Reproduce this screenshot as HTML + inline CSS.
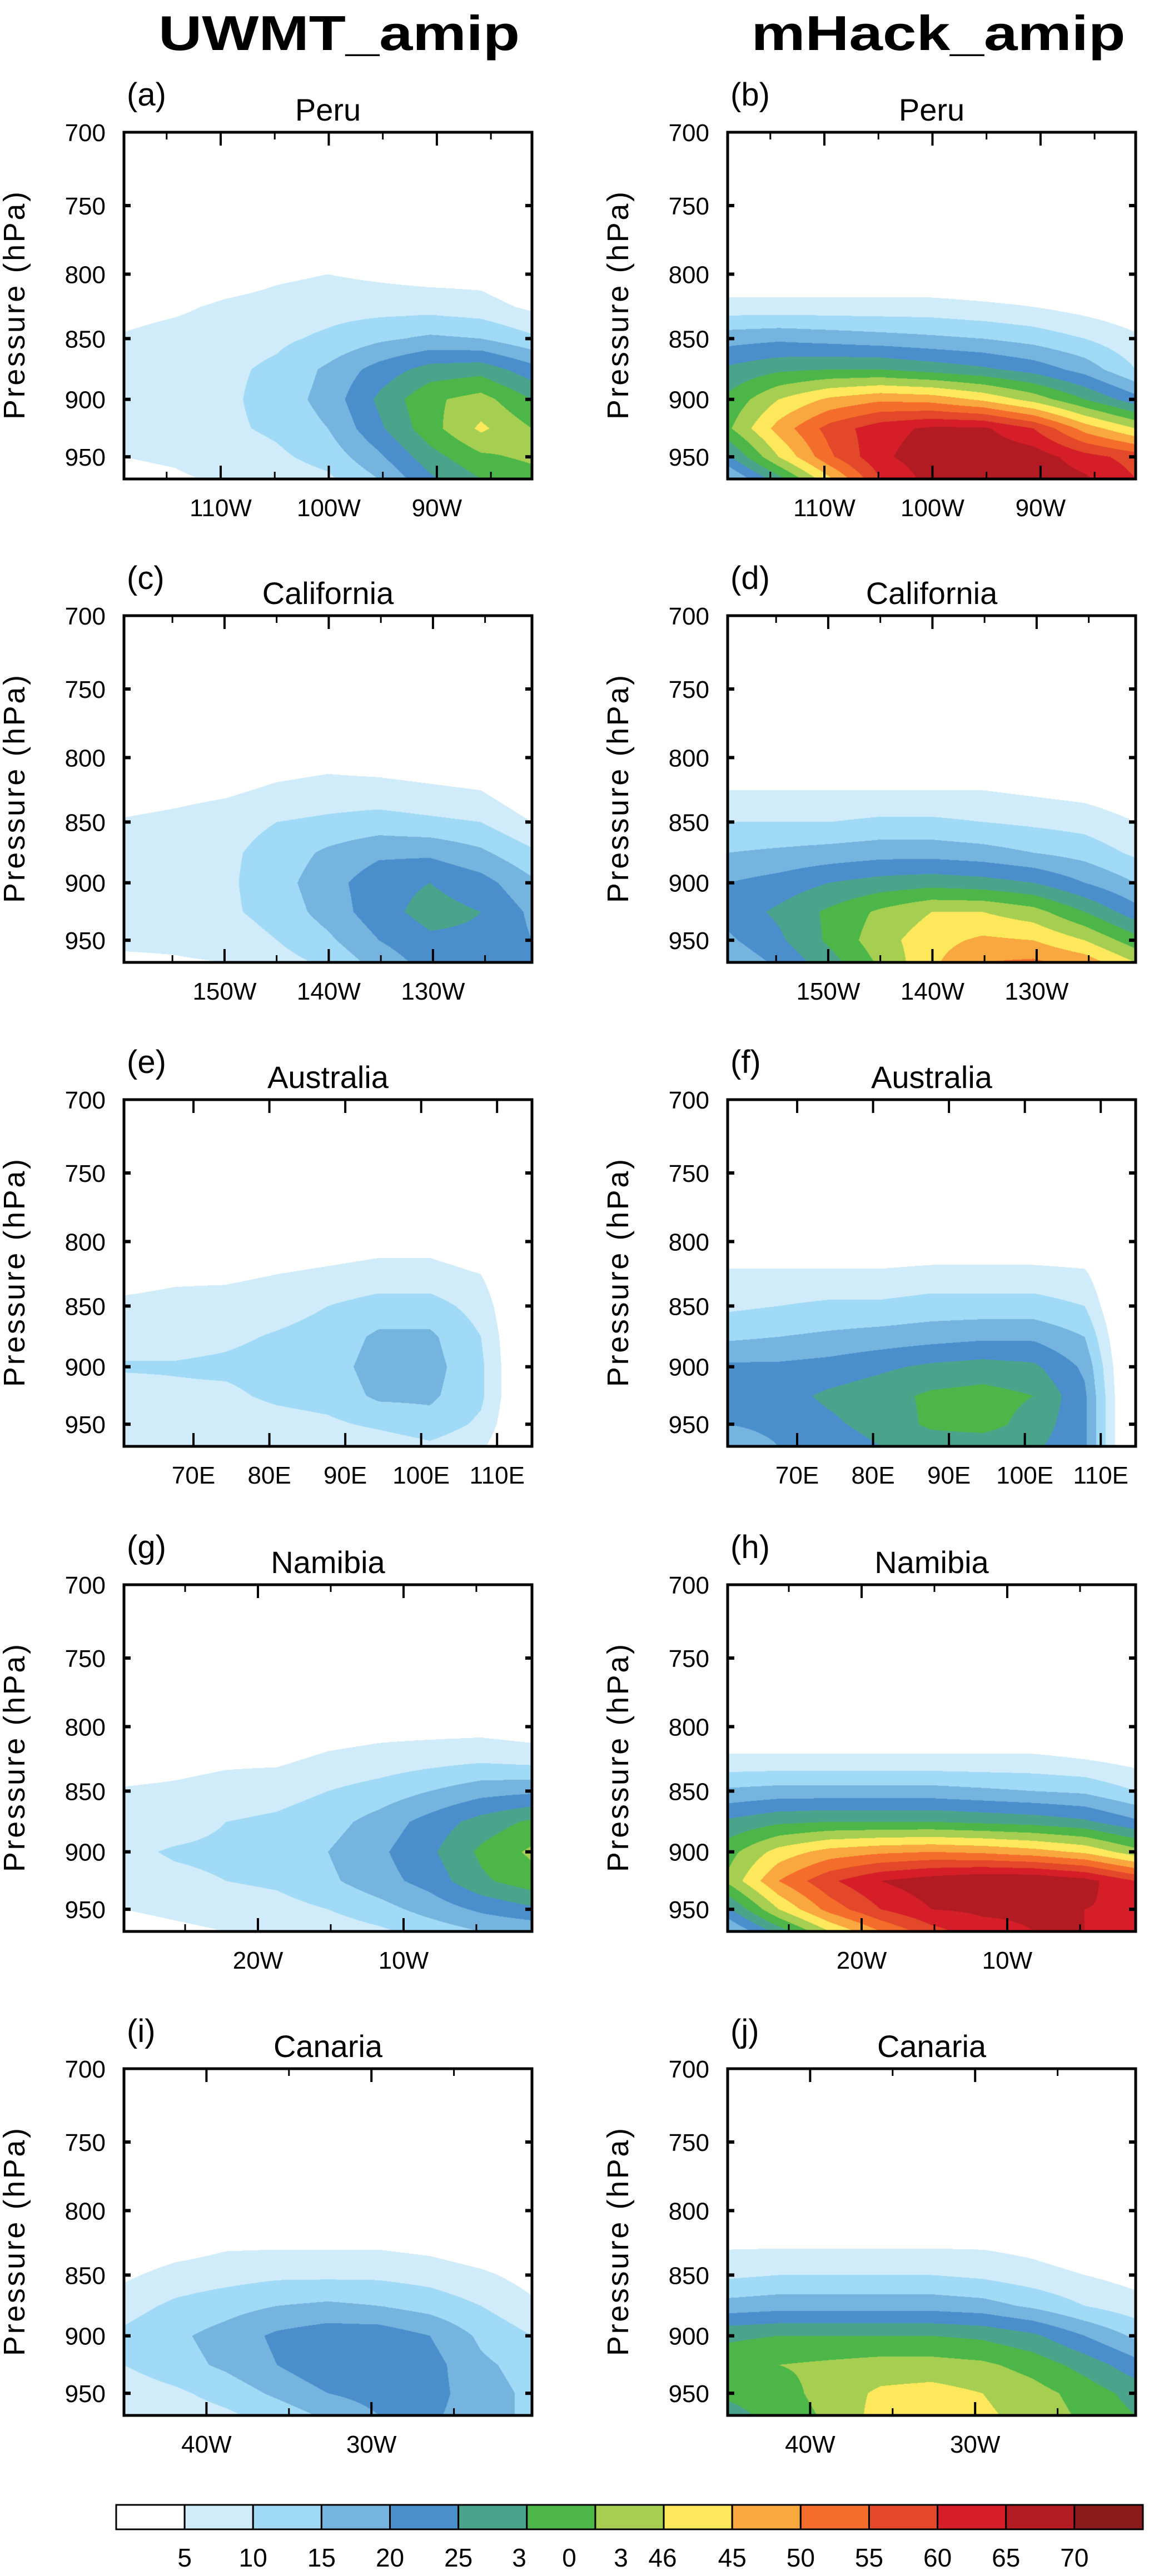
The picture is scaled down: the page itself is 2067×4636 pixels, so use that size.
<!DOCTYPE html>
<html><head><meta charset="utf-8">
<style>
html,body{margin:0;padding:0;background:#fff;}
body{width:2067px;height:4636px;position:relative;overflow:hidden;}
canvas{position:absolute;}
svg{position:absolute;left:0;top:0;}
text{font-family:"Liberation Sans",sans-serif;fill:#000;}
</style></head>
<body>
<div id="canvases"></div>
<svg id="ov" width="2067" height="4636"></svg>
<script>
// ---- data ----
const pressureLevels = [800, 825, 850, 875, 900, 925, 950, 970];
const levelColors = ["#ffffff","#d0ecfa","#a0daf6","#76b4e0","#4a8fcb","#4aa48c","#4cb748","#a6cf52","#fce85a","#f9a840","#f56d2a","#e24829","#d61e28","#b31b23","#8b1a1d"];
const colorbarLabels = ["5","10","15","20","25","3","0","3","46","45","50","55","60","65","70"];
const regionNames = ["Peru","California","Australia","Namibia","Canaria"];
const modelNames = ["UWMT_amip","mHack_amip"];
const yTickValues = [700, 750, 800, 850, 900, 950];

const peruUWMT = [
[0,3,5.5,8,8,8,5,4],[0,4,7,8,8,8,5.5,4.5],[2,6,8,9,9,9,7,5.5],[4,7,9,11,12,11,9,7],
[5,8,11,16,17,15,12,9],[4,8,14,22,26,24,19,15],[3,8,16,27,34,33,28,24],[3,7,15,28,37,41,34,30],[0,4,11,22,30,35,36,33]];
const peruHack = [
[0,7,18,26,31,34,24,14],[0,7,19,29,40,47,40,28],[0,7,18,30,46,57,54,44],[0,7,17,30,49,63,64,60],
[0,7,16,28,48,66,68,67],[0,6,15,26,44,66,69,69],[0,5,13,23,38,60,68,69],[0,3,10,18,30,48,62,66],[0,1,6,10,22,40,58,60]];
const califUWMT = [
[0,2,5.5,7,7,7,6,4],[0,3,6.5,8,8,8,6,4.5],[0,4,8,9,9,9,7,5],[2,6,10,12,13,12,10,8],
[3,7,11,16,18,17,14,11],[2,7,12,19,23,23,20,17],[1,6,11,19,25,27,24,22],[0,5,10,16,22,25,24,22],[0,0,5,11,16,19,20,20]];
const califHack = [
[0,5,10,15,20,22,19,16],[0,5,10,16,22,26,24,21],[0,5,10,17,25,31,31,28],[0,5,11,18,27,36,38,36],
[0,5,11,18,28,40,43,44],[0,5,10,17,27,40,46,50],[0,4,9,15,25,37,45,51],[0,3,8,13,20,30,40,48],[0,1,5,9,15,22,32,40]];
const austUWMT = [
[0,3,6,8,10.5,8,6,5],[0,4,6.5,8,10.5,9,7,6],[0,4,7,9,11,9,7,6],[1,5,8,10.5,12,11,8,6],
[2,6,10,12,13,12,9,6],[3,7,12,16,17,16,11,7],[3,7,12,16,17,16,13,9],[1,5,8,10,11,11,9,6],[-2,-4,-4,-4,-4,-4,-4,-4]];
const austHack = [
[0,6,9,14,21,22,20,15],[0,6,10,15,21,23,22,20],[0,6,11,16,22,26,24,22],[0,6,11,17,24,28,27,25],
[0,7,12,18,26,31,31,27],[0,7,12,19,27,32,32,27],[0,7,12,19,26,30,28,26],[0,6,10,15,19,21,21,21],[-3,-6,-6,-6,-6,-6,-6,-6]];
const namUWMT = [
[0,2,5.5,7,9,8,5,3],[0,3,6,8,10.5,9,6,4],[0,4,7,10,11,10,7,5],[0,4,8,11,12,11,8,6],
[2,6,10,13,15,14,10,7],[3,7,12,17,19,18,13,9],[3,8,15,22,24,22,17,12],[3,9,18,27,31,29,21,15],[2,8,19,31,36,33,24,16]];
const namHack = [
[0,6,16,26,33,36,24,14],[0,6,17,29,42,50,40,27],[0,6,17,30,47,59,52,40],[0,6,17,30,49,65,60,50],
[0,6,17,30,50,68,65,58],[0,6,16,29,49,70,66,63],[0,6,15,28,47,70,66,65],[0,5,14,26,44,67,65,65],[0,3,10,21,37,60,64,64]];
const canUWMT = [
[0,0,4,8,11,10,7,6],[0,2,7,11,14,13,9,7],[0,4,8,13,17,16,12,9],[0,4,9,15,21,20,16,12],
[0,4,9,16,23,24,20,16],[0,4,9,15,23,25,22,20],[0,3,8,13,20,22,22,21],[0,1,6,10,14,16,17,17],[0,0,3,6,10,13,14,14]];
const canHack = [
[0,4,9,17,29,33,31,28],[0,4,10,18,30,35,33,32],[0,4,10,18,30,36,37,36],[0,4,10,18,30,37,41,42],
[0,4,10,18,30,37,42,44],[0,4,9,17,29,36,40,41],[0,3,7,14,26,33,37,38],[0,1,5,10,20,28,33,34],[0,0,3,7,14,22,28,30]];

const lonDomains = [[-118.95,-81.2],[-159.65,-120.5],[60.84,114.6],[-29.2,-1.18],[-45.0,-20.27]];
const majorTicks = [[-110,-100,-90],[-150,-140,-130],[70,80,90,100,110],[-20,-10],[-40,-30]];
const minorTicks = [[-115,-105,-95,-85],[-155,-145,-135,-125],[],[-25,-15,-5],[-35,-25]];
const fields = [[peruUWMT,peruHack],[califUWMT,califHack],[austUWMT,austHack],[namUWMT,namHack],[canUWMT,canHack]];

// ---- layout ----
const NS="http://www.w3.org/2000/svg";
const svg=document.getElementById('ov');
const colLeft=[223,1309], PW=734, PH=624;
const rowTop=[238,1108,1979,2852,3723];
const PTOP=700, PBOT=970;
const LT=Math.log(PTOP), LB=Math.log(PBOT);
function yOf(p){return (Math.log(p)-LT)/(LB-LT)*PH;}
function add(tag,attrs,parent){const e=document.createElementNS(NS,tag);for(const k in attrs)e.setAttribute(k,attrs[k]);(parent||svg).appendChild(e);return e;}
function txt(s,attrs,parent){const e=add('text',attrs,parent);e.textContent=s;return e;}
function lonLabel(l){return l<0?(-l)+"W":l+"E";}
function hex(c){return [parseInt(c.slice(1,3),16),parseInt(c.slice(3,5),16),parseInt(c.slice(5,7),16)];}
const rgb=levelColors.map(hex);

function drawField(cv,data){
  const ctx=cv.getContext('2d');const im=ctx.createImageData(PW,PH);const d=im.data;
  const P=[770].concat(pressureLevels);const LP=P.map(Math.log);
  const nc=data.length-1;
  for(let py=0;py<PH;py++){
    const lp=LT+(py+0.5)/PH*(LB-LT);
    let j=-1;
    for(let k=0;k<LP.length-1;k++){if(lp>=LP[k]&&lp<=LP[k+1]){j=k;break;}}
    if(lp>LP[LP.length-1])j=LP.length-2;
    for(let px=0;px<PW;px++){
      let v=0;
      if(j>=0){
        const t=Math.min(1,(lp-LP[j])/(LP[j+1]-LP[j]));
        const fx=(px+0.5)/PW*nc;let i=Math.min(nc-1,Math.floor(fx));const s=fx-i;
        const g=(ii,jj)=>jj===0?0:data[ii][jj-1];
        const a=g(i,j)*(1-t)+g(i,j+1)*t, b=g(i+1,j)*(1-t)+g(i+1,j+1)*t;
        v=a*(1-s)+b*s;
      }
      const band=v<5?0:Math.min(14,Math.floor(v/5));
      const c=rgb[band];const o=(py*PW+px)*4;
      d[o]=c[0];d[o+1]=c[1];d[o+2]=c[2];d[o+3]=255;
    }
  }
  ctx.putImageData(im,0,0);
}

// column titles
for(let c=0;c<2;c++){
  const t=txt(modelNames[c],{x:[610,1688][c],y:90,'text-anchor':'middle','font-size':88,'font-weight':'bold'});
  
  
  t.setAttribute('textLength',[650,673][c]);t.setAttribute('lengthAdjust','spacingAndGlyphs');
}

const letters="abcdefghij";
const host=document.getElementById('canvases');
for(let r=0;r<5;r++){
  for(let c=0;c<2;c++){
    const L=colLeft[c],T=rowTop[r];
    const cv=document.createElement('canvas');cv.width=PW;cv.height=PH;
    cv.style.left=L+'px';cv.style.top=T+'px';
    
    
    host.appendChild(cv);drawField(cv,fields[r][c]);
    const g=add('g',{});
    
    
    const lab=txt('('+letters[r*2+c]+')',{x:L+5,y:T-48,'font-size':58},g);
    
    
    const st=txt(regionNames[r],{x:L+367,y:T-21,'text-anchor':'middle','font-size':56},g);
    
    
    for(const p of yTickValues){
      const y=T+yOf(p);
      const tl=txt(String(p),{x:L-33,y:y+16,'text-anchor':'end','font-size':44},g);
      
      
      if(p>PTOP){add('line',{x1:L,x2:L+12,y1:y,y2:y,stroke:'#000','stroke-width':6},g);
        add('line',{x1:L+PW-12,x2:L+PW,y1:y,y2:y,stroke:'#000','stroke-width':6},g);}
    }
    const yt=txt('Pressure (hPa)',{x:0,y:0,'text-anchor':'middle','font-size':54,transform:`translate(${L-179},${T+PH/2}) rotate(-90)`},g);
    
    
    yt.setAttribute('textLength',410);yt.setAttribute('lengthAdjust','spacing');
    const [a,b]=lonDomains[r];
    const xOf=l=>L+(l-a)/(b-a)*PW;
    for(const l of majorTicks[r]){
      const x=xOf(l);
      add('line',{x1:x,x2:x,y1:T,y2:T+24,stroke:'#000','stroke-width':4},g);
      add('line',{x1:x,x2:x,y1:T+PH,y2:T+PH-24,stroke:'#000','stroke-width':4},g);
      const xl=txt(lonLabel(l),{x:x,y:T+PH+67,'text-anchor':'middle','font-size':44},g);
      
      
    }
    for(const l of minorTicks[r]){
      const x=xOf(l);
      add('line',{x1:x,x2:x,y1:T,y2:T+13,stroke:'#000','stroke-width':3},g);
      add('line',{x1:x,x2:x,y1:T+PH,y2:T+PH-13,stroke:'#000','stroke-width':3},g);
    }
    const fr=add('rect',{x:L,y:T,width:PW,height:PH,fill:'none',stroke:'#000','stroke-width':5},g);
    
    
  }
}

// colorbar
const cb=add('g',{});


const cbL=209,cbW=(2056-209)/15,cbT=4508,cbH=44;
for(let k=0;k<levelColors.length;k++){
  const rc=add('rect',{x:cbL+k*cbW,y:cbT,width:cbW,height:cbH,fill:levelColors[k],stroke:'#000','stroke-width':3},cb);
  
  
}
const odd={5:934,6:1024,7:1117,8:1192};
for(let k=0;k<colorbarLabels.length;k++){
  let x;
  if(k<5) x=cbL+(k+1)*cbW;
  else if(odd[k]!==undefined) x=odd[k];
  else x=cbL+k*cbW;
  const t=txt(colorbarLabels[k],{x:x,y:4619,'text-anchor':'middle','font-size':46},cb);
  
  
}
</script>
</body></html>
